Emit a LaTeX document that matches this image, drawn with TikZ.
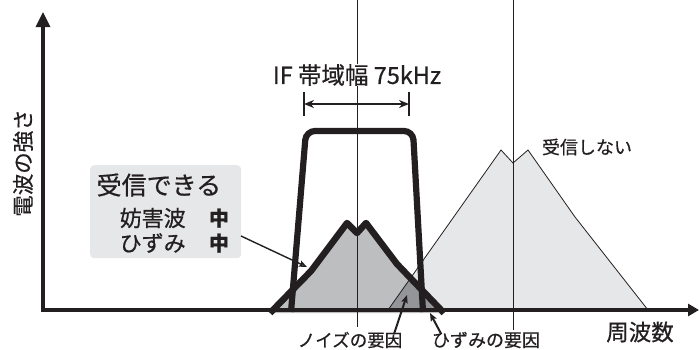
\documentclass[tikz,border=0pt]{standalone}
\usepackage{fontspec}
\newfontfamily\jp{Noto Sans CJK JP}[FakeBold=0.6]
\usetikzlibrary{arrows.meta}
\definecolor{lightg}{HTML}{E6E7E8}
\definecolor{midg}{HTML}{BCBEC0}
\definecolor{darkg}{HTML}{939598}
\definecolor{ink}{HTML}{231F20}
\tikzset{
  fs/.style={font=\jp\fontsize{#1bp}{#1bp}\selectfont},
  fsb/.style={font=\jp\bfseries\fontsize{#1bp}{#1bp}\selectfont},
  thinline/.style={draw=ink, line width=0.8bp},
  openarrow/.style={draw=ink, line width=#1, -{Stealth[open, fill=white, length=8bp, width=6.5bp, inset=1.5bp]}},
  lbl/.style={inner sep=0.5bp, text=ink},
}
\begin{document}
\begin{tikzpicture}[x=1bp,y=-1bp]
\useasboundingbox (0,0) rectangle (699,349);
% undesired signal (light)
\def\lightsig{(388,310) -- (501,150) -- (513,163) -- (528,150) -- (575,217) -- (648,310)}
\def\darksig{(270,313) -- (311,271) -- (347,223) -- (357,233) -- (366,223) -- (397,264) -- (444,313)}
\fill[lightg] \lightsig -- cycle;
\fill[midg] \darksig -- cycle;
\begin{scope}
  \clip \lightsig -- cycle;
  \fill[darkg] \darksig -- cycle;
\end{scope}
\draw[thinline] \lightsig;
% centre lines
\coordinate (c1t) at (357,0);
\coordinate (c1b) at (357,327);
\coordinate (c2t) at (513,0);
\coordinate (c2b) at (513,330);
\draw[thinline] (c1t) -- (c1b);
\draw[thinline] (c2t) -- (c2b);
% desired signal outline
\draw[ink, line width=6.5bp, line join=round] \darksig;
% IF filter
\draw[ink, line width=6.2bp, rounded corners=9bp] (291,312) -- (306,131) -- (413,131) -- (423,312);
% axes
\coordinate (ytop) at (43,12);
\coordinate (org) at (43,310);
\coordinate (xend) at (699,310);
\draw[ink, line width=3.2bp, {Triangle[length=15bp,width=14bp]}-{Triangle[length=11bp,width=12bp]}] (ytop) -- (org) -- (xend);
% IF bandwidth label
\node[lbl, fs=23.5, fill=white] (iflabel) at (357,75) {IF 帯域幅 75kHz};
\coordinate (dl) at (304,104);
\coordinate (dr) at (409,104);
\draw[ink, line width=1.8bp, {Stealth[length=10bp,width=8bp]}-{Stealth[length=10bp,width=8bp]}] (dl) -- (dr);
\draw[ink, line width=1.3bp] (304,92) -- (304,116);
\draw[ink, line width=1.3bp] (409,92) -- (409,116);
% axis labels
\node[lbl, fs=21.5, rotate=90] (ylabel) at (23,163) {電波の強さ};
\node[lbl, fs=22.5] (xlabel) at (640,332) {周波数};
\node[lbl, fs=18] (nolabel) at (587,147) {受信しない};
% box
\node[fill=lightg, rounded corners=4bp, minimum width=151bp, minimum height=93bp, anchor=north west, inner sep=0] (box) at (90,165) {};
\node[lbl, fs=25, anchor=west] (ok) at (96,185) {受信できる};
\node[lbl, fs=22, anchor=west] (intf) at (119,218) {妨害波};
\node[lbl, fs=22, anchor=west] (dist) at (119,243) {ひずみ};
\node[lbl, fsb=20] (m1) at (219,218) {中};
\node[lbl, fsb=20] (m2) at (219,243) {中};
\coordinate (boxarr) at (241,236);
\coordinate (sigpt) at (307,267);
\draw[openarrow=1.4bp] (boxarr) -- (sigpt);
% bottom labels
\node[lbl, fs=17.5] (noise) at (350,340) {ノイズの要因};
\node[lbl, fs=18] (distc) at (486,340) {ひずみの要因};
\coordinate (npt) at (407,295);
\coordinate (dpt) at (430,313);
\draw[openarrow=2bp] (noise.north east) ++(-9,3) coordinate (nstart) (nstart) -- (npt);
\draw[openarrow=2bp] (distc.north west) ++(10,3) coordinate (dstart) (dstart) -- (dpt);
\end{tikzpicture}
\end{document}
